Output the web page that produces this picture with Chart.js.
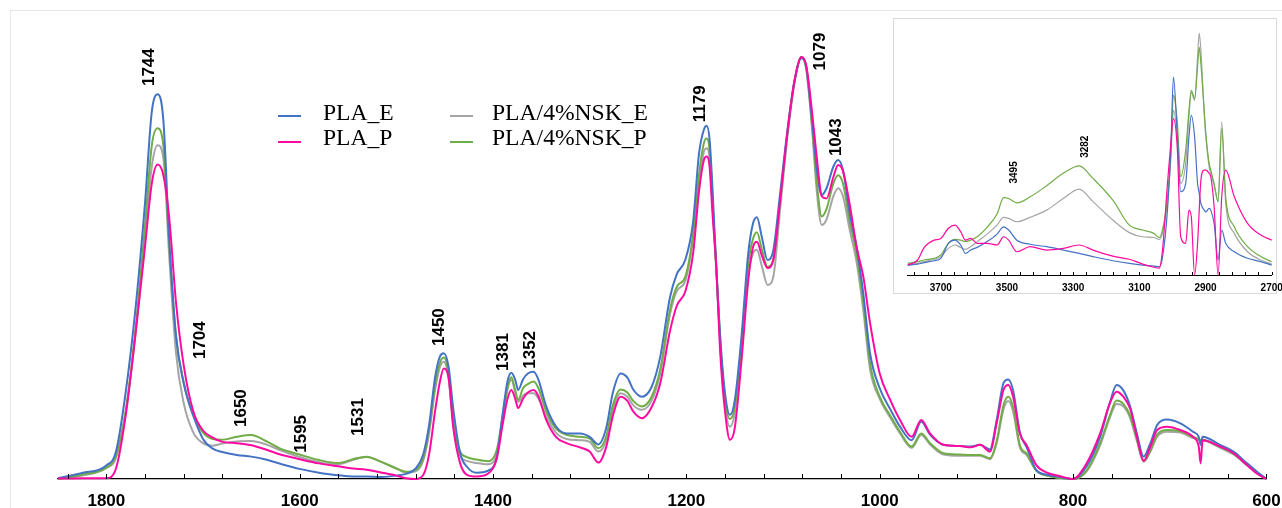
<!DOCTYPE html>
<html>
<head>
<meta charset="utf-8">
<script src="https://cdn.jsdelivr.net/npm/chart.js@4.4.1/dist/chart.umd.min.js"></script>
<style>
  html, body { margin:0; padding:0; background:#ffffff; width:1282px; height:508px; overflow:hidden; }
  #frame { position:absolute; left:10px; top:10px; width:1300px; height:600px; border-left:1px solid #e6e6e6; border-top:1px solid #e6e6e6; }
  #mainCanvas { position:absolute; left:0; top:0; }
  #insetFrame { position:absolute; left:893px; top:18px; width:384px; height:276px; border:1px solid #d9d9d9; box-sizing:border-box; background:#fff; }
  #insetCanvas { position:absolute; left:893px; top:18px; }
  .lg-line { position:absolute; width:23px; height:2px; }
  .lg-text { position:absolute; font-family:"Liberation Serif","Times New Roman",serif; font-size:23.6px; line-height:26px; color:#000; white-space:nowrap; }
</style>
</head>
<body>
<div id="frame"></div>
<canvas id="mainCanvas" width="1282" height="508"></canvas>
<div id="insetFrame"></div>
<canvas id="insetCanvas" width="389" height="290"></canvas>
<div id="legend"></div>
<script>
// ---------------- series names & colours ----------------
const seriesNames  = ['PLA_E', 'PLA_P', 'PLA/4%NSK_E', 'PLA/4%NSK_P'];
const seriesColors = ['#4472C4', '#FF0AA0', '#A5A5A5', '#70AD47'];

// ---------------- main spectrum (cm-1) ----------------
const mainWavenumbers = [
 1850,1825,1800,1790,1780,1770,1760,1753,1747,1741,
 1735,1728,1720,1710,1700,1690,1680,1665,1650,1635,
 1620,1600,1580,1560,1545,1531,1515,1500,1490,1480,
 1472,1466,1460,1455,1451,1446,1441,1434,1427,1417,
 1405,1396,1390,1385,1381,1377,1374,1369,1364,1358,
 1353,1345,1335,1324,1310,1300,1291,1283,1276,1268,
 1261,1255,1246,1236,1227,1217,1210,1201,1193,1187,
 1182,1179,1176,1173,1169,1165,1160,1155,1150,1143,
 1136,1131,1127,1122,1116,1110,1103,1095,1088,1081,
 1076,1070,1065,1060,1055,1048,1043,1038,1031,1024,
 1017,1010,1000,989,979,967,957,948,934,917,
 906,896,886,879,872,867,862,855,848,838,
 827,814,800,786,772,762,755,748,741,734,
 727,720,713,703,689,676,670,668,666,648,
 634,620,610,600
];
const mainPLA_E = [
 .002,.014,.032,.065,.205,.40,.654,.87,.912,.85,
 .57,.34,.227,.15,.095,.072,.064,.057,.053,.046,
 .036,.024,.015,.009,.006,.006,.005,.008,.012,.025,
 .06,.13,.24,.29,.298,.266,.164,.061,.029,.015,
 .02,.053,.155,.232,.252,.235,.211,.236,.25,.254,
 .235,.172,.125,.108,.108,.1,.082,.12,.205,.25,
 .24,.212,.195,.218,.29,.43,.485,.52,.61,.77,
 .827,.837,.805,.69,.50,.337,.203,.152,.185,.337,
 .535,.606,.62,.574,.519,.543,.677,.835,.946,.997,
 .977,.851,.732,.673,.689,.74,.756,.732,.63,.551,
 .44,.298,.215,.165,.124,.092,.136,.105,.081,.078,
 .077,.081,.07,.14,.227,.236,.21,.11,.075,.021,
 .01,.005,0,.03,.10,.18,.223,.21,.172,.108,
 .053,.085,.128,.141,.132,.112,.1,.081,.1,.081,
 .065,.037,.018,0
];
const mainPLA_P = [
 .001,.002,.002,.025,.15,.34,.55,.70,.745,.72,
 .62,.42,.27,.16,.115,.098,.088,.085,.08,.07,
 .058,.047,.037,.03,.025,.022,.015,.008,.002,0,
 .01,.06,.16,.23,.262,.24,.12,.037,.01,.006,
 .013,.05,.13,.19,.211,.19,.168,.19,.205,.211,
 .196,.14,.1,.085,.075,.065,.039,.075,.15,.195,
 .185,.16,.144,.17,.227,.35,.41,.445,.535,.68,
 .755,.764,.74,.63,.50,.30,.16,.093,.12,.28,
 .47,.55,.562,.53,.50,.52,.66,.83,.945,1.0,
 .98,.87,.76,.67,.665,.715,.744,.73,.65,.551,
 .48,.37,.25,.187,.14,.10,.14,.108,.081,.078,
 .075,.081,.065,.132,.211,.223,.195,.108,.08,.033,
 .015,.007,0,.037,.108,.179,.207,.195,.167,.10,
 .043,.077,.116,.124,.116,.1,.077,.037,.092,.077,
 .061,.033,.013,0
];
const mainNSK_E = [
 0,.008,.026,.05,.16,.34,.57,.74,.791,.76,
 .53,.30,.18,.11,.085,.079,.084,.089,.09,.082,
 .068,.052,.04,.035,.045,.052,.04,.025,.015,.018,
 .045,.11,.21,.265,.278,.24,.125,.055,.043,.038,
 .035,.06,.14,.212,.235,.205,.183,.198,.203,.203,
 .19,.148,.11,.095,.092,.088,.065,.09,.165,.203,
 .195,.175,.164,.185,.25,.39,.445,.47,.57,.70,
 .775,.784,.76,.65,.49,.32,.175,.124,.155,.30,
 .48,.535,.543,.505,.46,.48,.64,.82,.94,1.0,
 .97,.83,.68,.602,.615,.67,.689,.67,.59,.515,
 .40,.26,.19,.145,.108,.074,.104,.082,.058,.055,
 .055,.055,.047,.085,.165,.185,.16,.075,.057,.02,
 .008,.003,0,.018,.08,.145,.178,.172,.145,.09,
 .041,.065,.1,.112,.11,.097,.093,.09,.091,.074,
 .058,.032,.015,0
];
const mainNSK_P = [
 0,.01,.027,.055,.16,.35,.60,.79,.831,.79,
 .56,.34,.23,.15,.11,.095,.093,.1,.104,.09,
 .072,.058,.045,.038,.047,.053,.04,.025,.017,.022,
 .05,.12,.22,.275,.288,.25,.132,.065,.052,.046,
 .042,.07,.15,.218,.241,.21,.187,.215,.225,.231,
 .215,.16,.12,.105,.1,.096,.073,.1,.175,.212,
 .205,.185,.172,.195,.26,.40,.455,.48,.58,.72,
 .795,.807,.78,.66,.50,.33,.19,.142,.17,.32,
 .51,.57,.585,.545,.503,.52,.66,.83,.945,1.0,
 .975,.84,.70,.622,.64,.70,.72,.70,.61,.535,
 .42,.274,.195,.15,.112,.077,.108,.085,.061,.058,
 .057,.057,.049,.09,.175,.195,.17,.08,.06,.02,
 .008,.003,0,.02,.085,.15,.186,.178,.15,.095,
 .043,.068,.105,.116,.113,.1,.095,.092,.093,.076,
 .06,.033,.016,0
];
const mainTickLabels = [1800, 1600, 1400, 1200, 1000, 800, 600];
const mainPeakLabels = ['1744','1704','1650','1595','1531','1450','1381','1352','1179','1079','1043'];
const mainPeakAnchorX = [1756, 1703, 1660, 1598.6, 1539.7, 1456, 1389.7, 1361.7, 1186, 1061.7, 1045.2];
const mainPeakAnchorY = [.976, .329, .168, .107, .147, .360, .301, .306, .889, 1.013, .810];

// ---------------- inset spectrum (cm-1) ----------------
const insetWavenumbers = [
 3800,3770,3750,3720,3700,3677,3657,3640,3625,3610,
 3590,3560,3530,3510,3495,3470,3430,3380,3330,3282,
 3240,3180,3130,3090,3056,3040,3030,3015,3005,2997,
 2985,2975,2960,2950,2943,2933,2924,2919,2914,2904,
 2899,2889,2884,2874,2862,2851,2839,2813,2773,2733,2700
];
const insetPLA_E = [
 .041,.045,.051,.059,.069,.131,.144,.124,.089,.103,
 .114,.138,.169,.199,.186,.144,.127,.117,.103,.089,
 .076,.059,.048,.041,.037,.034,.073,.268,.516,.818,
 .571,.344,.378,.571,.660,.571,.378,.337,.296,.268,
 .261,.275,.268,.213,.062,.186,.131,.096,.069,.055,.041
];
const insetPLA_P = [
 .041,.062,.114,.144,.151,.193,.206,.179,.144,.151,
 .131,.131,.124,.158,.144,.096,.117,.103,.110,.124,
 .103,.078,.065,.045,.032,.028,.103,.378,.543,.646,
 .516,.158,.131,.268,.241,0,.131,.268,.392,.433,
 .433,.420,.406,.282,0,.323,.433,.323,.213,.165,.144
];
const insetNSK_E = [
 .041,.048,.055,.065,.076,.110,.124,.114,.106,.117,
 .138,.169,.206,.238,.234,.220,.238,.268,.316,.355,
 .303,.227,.175,.158,.155,.147,.172,.303,.475,.681,
 .571,.378,.461,.653,.757,.722,.901,1.0,.929,.667,
 .571,.447,.420,.371,.303,.633,.296,.172,.096,.062,.045
];
const insetNSK_P = [
 .048,.055,.062,.069,.083,.131,.147,.144,.138,.144,
 .158,.197,.252,.320,.316,.298,.323,.369,.420,.451,
 .399,.309,.206,.186,.172,.155,.186,.323,.502,.743,
 .626,.406,.516,.681,.763,.729,.860,.942,.873,.681,
 .585,.461,.433,.378,.303,.605,.323,.199,.117,.076,.055
];
const insetTickLabels = [3700, 3500, 3300, 3100, 2900, 2700];
const insetPeakLabels = ['3495', '3282'];
const insetPeakAnchorX = [3479, 3263];
const insetPeakAnchorY = [.424, .530];

// ---------------- helpers ----------------
function pts(xs, ys) { return xs.map((x, i) => ({ x: x, y: ys[i] })); }
const FONT = '"Liberation Sans", Arial, Helvetica, sans-serif';

// draw order: first dataset ends on top in Chart.js
const drawOrder = [1, 0, 3, 2]; // PLA_P, PLA_E, NSK_P, NSK_E
const mainSeries  = [mainPLA_E, mainPLA_P, mainNSK_E, mainNSK_P];
const insetSeries = [insetPLA_E, insetPLA_P, insetNSK_E, insetNSK_P];

const inwardTicks = {
  id: 'inwardTicks',
  afterDraw(chart, args, opts) {
    const sx = chart.scales.x, ctx = chart.ctx, b = chart.chartArea.bottom;
    ctx.save();
    ctx.strokeStyle = '#000';
    ctx.lineWidth = 1;
    sx.ticks.forEach(t => {
      const px = Math.round(sx.getPixelForValue(t.value)) + 0.5;
      ctx.beginPath(); ctx.moveTo(px, b); ctx.lineTo(px, b - opts.len); ctx.stroke();
    });
    ctx.restore();
  }
};
const peakLabels = {
  id: 'peakLabels',
  afterDraw(chart, args, opts) {
    const sx = chart.scales.x, sy = chart.scales.y, ctx = chart.ctx;
    ctx.save();
    ctx.fillStyle = '#000';
    ctx.font = 'bold ' + opts.size + 'px ' + FONT;
    ctx.textAlign = 'center';
    ctx.textBaseline = 'middle';
    opts.labels.forEach((lab, i) => {
      const px = sx.getPixelForValue(opts.xs[i]);
      const py = sy.getPixelForValue(opts.ys[i]);
      ctx.save(); ctx.translate(px, py); ctx.rotate(-Math.PI / 2);
      ctx.fillText(lab, 0, 0);
      ctx.restore();
    });
    ctx.restore();
  }
};

function makeDatasets(xs, seriesList, width) {
  return drawOrder.map(i => ({
    label: seriesNames[i],
    data: pts(xs, seriesList[i]),
    borderColor: seriesColors[i],
    backgroundColor: seriesColors[i],
    borderWidth: width,
    pointRadius: 0,
    fill: false,
    cubicInterpolationMode: 'monotone',
    clip: false
  }));
}

// ---------------- main chart ----------------
new Chart(document.getElementById('mainCanvas'), {
  type: 'line',
  data: { datasets: makeDatasets(mainWavenumbers, mainSeries, 2) },
  plugins: [inwardTicks, peakLabels],
  options: {
    responsive: false, animation: false, devicePixelRatio: 1, events: [],
    layout: { padding: { left: 58, right: 15.6, top: 10, bottom: 0 } },
    plugins: {
      legend: { display: false }, tooltip: { enabled: false },
      inwardTicks: { len: 5 },
      peakLabels: { labels: mainPeakLabels, xs: mainPeakAnchorX, ys: mainPeakAnchorY, size: 17 }
    },
    scales: {
      x: {
        type: 'linear', reverse: true, min: 600, max: 1850,
        grid: { display: false, drawTicks: false },
        border: { display: true, color: '#000', width: 1.3 },
        afterBuildTicks: s => { const t = []; for (let v = 600; v <= 1840; v += 40) t.push({ value: v }); s.ticks = t; },
        afterFit: s => { s.height = 29; s.paddingLeft = 0; s.paddingRight = 0; },
        ticks: {
          autoSkip: false, maxRotation: 0, minRotation: 0, padding: 12, color: '#000',
          font: { family: FONT, size: 17, weight: 'bold' },
          callback: v => mainTickLabels.includes(v) ? String(v) : ''
        }
      },
      y: { display: false, min: 0, max: 1.1114 }
    }
  }
});

// ---------------- inset chart ----------------
new Chart(document.getElementById('insetCanvas'), {
  type: 'line',
  data: { datasets: makeDatasets(insetWavenumbers, insetSeries, 1.2) },
  plugins: [inwardTicks, peakLabels],
  options: {
    responsive: false, animation: false, devicePixelRatio: 1, events: [],
    layout: { padding: { left: 14.7, right: 10.3, top: 5, bottom: 0 } },
    plugins: {
      legend: { display: false }, tooltip: { enabled: false },
      inwardTicks: { len: 3 },
      peakLabels: { labels: insetPeakLabels, xs: insetPeakAnchorX, ys: insetPeakAnchorY, size: 10 }
    },
    scales: {
      x: {
        type: 'linear', reverse: true, min: 2700, max: 3800,
        grid: { display: false, drawTicks: false },
        border: { display: true, color: '#000', width: 1 },
        afterBuildTicks: s => { const t = []; for (let v = 2700; v <= 3780; v += 40) t.push({ value: v }); s.ticks = t; },
        afterFit: s => { s.height = 33; s.paddingLeft = 0; s.paddingRight = 0; },
        ticks: {
          autoSkip: false, maxRotation: 0, minRotation: 0, padding: 7, color: '#000',
          font: { family: FONT, size: 10, weight: 'bold' },
          callback: v => insetTickLabels.includes(v) ? String(v) : ''
        }
      },
      y: { display: false, min: 0, max: 1.0413 }
    }
  }
});

// ---------------- legend (2 x 2) ----------------
const legendSlots = [
  { lineX: 278, textX: 323, lineY: 115, textY: 98.5 },
  { lineX: 278, textX: 323, lineY: 141, textY: 123.5 },
  { lineX: 450, textX: 492, lineY: 115, textY: 98.5 },
  { lineX: 450, textX: 492, lineY: 141, textY: 123.5 }
];
const lg = document.getElementById('legend');
seriesNames.forEach((name, i) => {
  const s = legendSlots[i];
  const l = document.createElement('div');
  l.className = 'lg-line';
  l.style.left = s.lineX + 'px'; l.style.top = s.lineY + 'px'; l.style.background = seriesColors[i];
  const t = document.createElement('div');
  t.className = 'lg-text';
  t.style.left = s.textX + 'px'; t.style.top = s.textY + 'px';
  t.textContent = name;
  lg.appendChild(l); lg.appendChild(t);
});
</script>
</body>
</html>
